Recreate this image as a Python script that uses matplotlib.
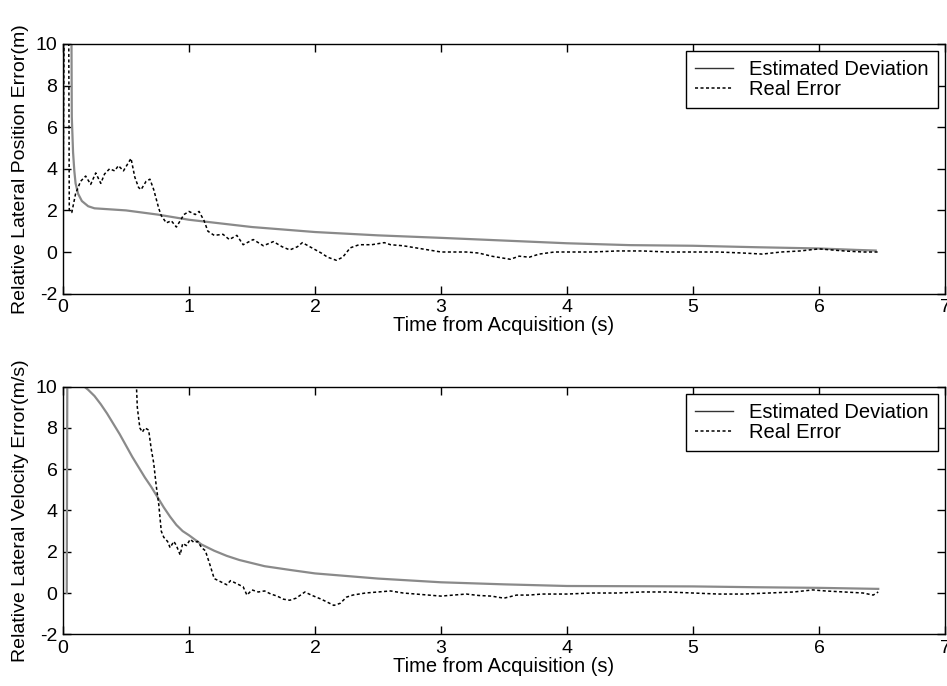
import matplotlib
matplotlib.use("Agg")
import matplotlib.pyplot as plt
from matplotlib.lines import Line2D

plt.rcParams['font.family'] = ['Liberation Sans', 'DejaVu Sans']
plt.rcParams['axes.unicode_minus'] = False

# ---- top panel: lateral position ----
pos_est_t = [0.0, 0.005, 0.065, 0.07, 0.08, 0.09, 0.10, 0.12, 0.15, 0.20, 0.25, 0.50,
             0.75, 1.0, 1.5, 2.0, 2.5, 3.0, 3.5, 4.0, 4.5, 5.0, 5.5, 6.0, 6.3, 6.45]
pos_est_v = [0.0, 14.0, 14.0, 6.5, 4.8, 3.9, 3.3, 2.8, 2.45, 2.2, 2.1, 2.0,
             1.8, 1.55, 1.2, 0.96, 0.8, 0.68, 0.55, 0.42, 0.33, 0.3, 0.23, 0.17, 0.1, 0.07]

pos_err_t = [0.0, 0.01, 0.045, 0.05, 0.07, 0.10, 0.14, 0.18, 0.22, 0.26, 0.30, 0.33, 0.37,
             0.41, 0.44, 0.48, 0.53, 0.54, 0.57, 0.60, 0.62, 0.66, 0.69, 0.72, 0.76, 0.78,
             0.82, 0.86, 0.90, 0.93, 0.96, 1.00, 1.05, 1.08, 1.12, 1.15, 1.20, 1.27, 1.32,
             1.38, 1.43, 1.51, 1.59, 1.67, 1.74, 1.80, 1.86, 1.90, 1.96, 2.02, 2.05, 2.10,
             2.17, 2.22, 2.28, 2.35, 2.45, 2.55, 2.60, 2.70, 2.80, 2.90, 3.00, 3.10, 3.20,
             3.30, 3.40, 3.50, 3.55, 3.62, 3.70, 3.78, 3.90, 4.00, 4.20, 4.40, 4.60, 4.80,
             5.00, 5.20, 5.40, 5.55, 5.70, 5.85, 6.00, 6.10, 6.20, 6.35, 6.47]
pos_err_v = [2.0, 12.0, 12.0, 2.0, 1.9, 2.8, 3.4, 3.65, 3.25, 3.8, 3.3, 3.75, 4.0,
             3.9, 4.15, 3.9, 4.4, 4.5, 3.6, 3.1, 3.0, 3.4, 3.5, 3.0, 2.1, 1.75,
             1.4, 1.5, 1.2, 1.5, 1.8, 1.95, 1.8, 1.95, 1.5, 1.0, 0.8, 0.85, 0.6,
             0.8, 0.35, 0.6, 0.3, 0.5, 0.25, 0.1, 0.25, 0.45, 0.25, 0.05, -0.05, -0.25,
             -0.4, -0.25, 0.2, 0.35, 0.35, 0.45, 0.35, 0.3, 0.2, 0.1, 0.0, 0.0, 0.0,
             -0.05, -0.2, -0.3, -0.35, -0.2, -0.25, -0.1, 0.0, 0.0, 0.0, 0.05, 0.05, 0.0,
             0.0, 0.0, -0.05, -0.1, 0.0, 0.05, 0.15, 0.1, 0.05, 0.0, 0.0]

# ---- bottom panel: lateral velocity ----
vel_est_t = [0.03, 0.035, 0.17, 0.20, 0.25, 0.30, 0.35, 0.40, 0.45, 0.50, 0.55, 0.60,
             0.65, 0.70, 0.75, 0.80, 0.85, 0.90, 0.95, 1.0, 1.1, 1.2, 1.3, 1.4, 1.5, 1.6,
             1.8, 2.0, 2.2, 2.5, 3.0, 3.5, 4.0, 4.5, 5.0, 5.5, 6.0, 6.47]
vel_est_v = [0.0, 12.0, 10.0, 9.85, 9.55, 9.15, 8.7, 8.2, 7.7, 7.15, 6.6, 6.1,
             5.6, 5.15, 4.65, 4.15, 3.7, 3.3, 3.0, 2.8, 2.35, 2.05, 1.8, 1.6, 1.45, 1.3,
             1.12, 0.95, 0.85, 0.7, 0.52, 0.42, 0.34, 0.33, 0.32, 0.28, 0.25, 0.2]

vel_err_t = [0.57, 0.59, 0.61, 0.63, 0.65, 0.68, 0.70, 0.72, 0.74, 0.76, 0.78, 0.80,
             0.83, 0.85, 0.88, 0.90, 0.93, 0.95, 0.98, 1.01, 1.04, 1.07, 1.10, 1.13,
             1.17, 1.20, 1.25, 1.30, 1.33, 1.38, 1.43, 1.46, 1.50, 1.55, 1.60, 1.65,
             1.70, 1.75, 1.80, 1.85, 1.92, 1.97, 2.05, 2.10, 2.15, 2.20, 2.25, 2.30,
             2.40, 2.50, 2.60, 2.70, 2.80, 2.90, 3.00, 3.10, 3.20, 3.30, 3.40, 3.50,
             3.60, 3.70, 3.80, 4.00, 4.20, 4.40, 4.60, 4.80, 5.00, 5.20, 5.40, 5.60,
             5.80, 5.95, 6.05, 6.20, 6.35, 6.43, 6.47]
vel_err_v = [12.0, 9.0, 8.0, 7.8, 8.0, 7.9, 7.0, 6.3, 5.2, 4.3, 3.0, 2.7,
             2.5, 2.2, 2.5, 2.3, 1.85, 2.4, 2.3, 2.6, 2.45, 2.5, 2.2, 2.05,
             1.3, 0.7, 0.55, 0.4, 0.6, 0.45, 0.3, -0.1, 0.15, 0.05, 0.1, -0.05,
             -0.15, -0.3, -0.35, -0.25, 0.05, -0.1, -0.3, -0.45, -0.6, -0.5, -0.2, -0.1,
             0.0, 0.05, 0.1, 0.0, -0.05, -0.1, -0.15, -0.1, -0.05, -0.12, -0.15, -0.25,
             -0.1, -0.1, -0.05, -0.05, 0.0, 0.0, 0.05, 0.05, 0.0, -0.05, -0.05, 0.0,
             0.05, 0.15, 0.1, 0.05, 0.0, -0.1, 0.05]

x_ticks = [0, 1, 2, 3, 4, 5, 6, 7]
y_ticks = [-2, 0, 2, 4, 6, 8, 10]

GRAY = '#8a8a8a'
DASH = (0, (2.0, 1.6))

fig = plt.figure(figsize=(9.47, 6.86), dpi=100)
ax1 = fig.add_axes([0.0665, 0.572, 0.9314, 0.3639])
ax2 = fig.add_axes([0.0665, 0.0754, 0.9314, 0.3609])

panels = [
    (ax1, pos_est_t, pos_est_v, pos_err_t, pos_err_v, 'Relative Lateral Position Error(m)'),
    (ax2, vel_est_t, vel_est_v, vel_err_t, vel_err_v, 'Relative Lateral Velocity Error(m/s)'),
]

for ax, et, ev, rt, rv, ylab in panels:
    ax.plot(et, ev, color=GRAY, lw=1.6)
    ax.plot(rt, rv, color='black', lw=1.1, linestyle=DASH)
    ax.set_xlim(0, 7)
    ax.set_ylim(-2, 10)
    ax.set_xticks(x_ticks)
    ax.set_yticks(y_ticks)
    ax.tick_params(direction='in', length=6, width=1, top=True, right=True,
                   labelsize=14, pad=4, colors='black')
    for s in ax.spines.values():
        s.set_linewidth(1.0)
        s.set_color('black')
    ax.set_xlabel('Time from Acquisition (s)', fontsize=14.5, labelpad=0)
    ax.set_ylabel(ylab, fontsize=14)
    ax.yaxis.set_label_coords(-0.038, 0.5)
    handles = [Line2D([], [], color='#333333', lw=1.0),
               Line2D([], [], color='black', lw=1.1, linestyle=DASH)]
    leg = ax.legend(handles, ['Estimated Deviation', 'Real Error'], loc='upper right',
                    fontsize=14.5, fancybox=False, framealpha=1, edgecolor='black',
                    borderpad=0.45, handlelength=1.9, handletextpad=0.8,
                    labelspacing=0.05, borderaxespad=0.35)
    leg.get_frame().set_linewidth(1.0)

fig.savefig('out.png', dpi=100)
